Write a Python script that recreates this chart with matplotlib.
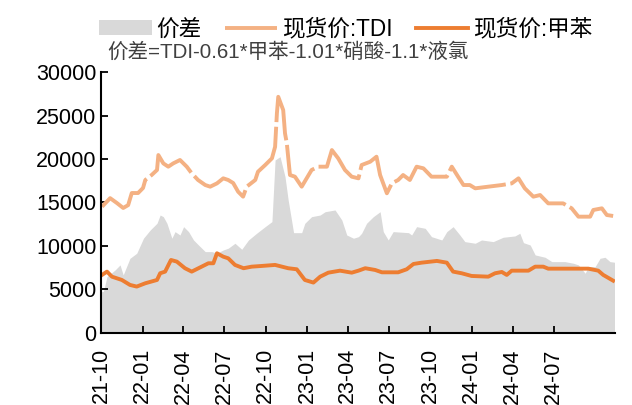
import matplotlib
matplotlib.use("Agg")
import matplotlib.pyplot as plt
import matplotlib.dates as mdates
import pandas as pd

plt.rcParams['font.family'] = ['Liberation Sans', 'Noto Sans CJK SC', 'DejaVu Sans']

# spread (价差)
spread_dates = [
    "2021-10-01", "2021-10-06", "2021-10-14", "2021-11-01", "2021-11-12", "2021-11-19",
    "2021-12-04", "2021-12-19", "2022-01-03", "2022-01-18", "2022-02-02", "2022-02-09",
    "2022-02-16", "2022-02-24", "2022-03-07", "2022-03-14", "2022-03-25", "2022-04-02",
    "2022-04-13", "2022-04-24", "2022-05-05", "2022-05-20", "2022-06-04", "2022-06-15",
    "2022-06-29", "2022-07-10", "2022-07-25", "2022-08-09", "2022-08-24", "2022-09-11",
    "2022-09-30", "2022-10-15", "2022-10-22", "2022-11-02", "2022-11-13", "2022-11-20",
    "2022-11-28", "2022-12-02", "2022-12-20", "2022-12-27", "2023-01-11", "2023-01-30",
    "2023-02-10", "2023-03-04", "2023-03-19", "2023-03-30", "2023-04-14", "2023-04-25",
    "2023-05-02", "2023-05-13", "2023-05-28", "2023-06-12", "2023-06-19", "2023-06-30",
    "2023-07-11", "2023-08-14", "2023-08-21", "2023-09-01", "2023-09-20", "2023-10-04",
    "2023-10-27", "2023-11-07", "2023-11-21", "2023-12-06", "2023-12-17", "2024-01-09",
    "2024-01-23", "2024-02-18", "2024-03-11", "2024-04-06", "2024-04-17", "2024-04-25",
    "2024-05-10", "2024-05-21", "2024-06-12", "2024-06-27", "2024-07-26", "2024-08-14",
    "2024-08-25", "2024-09-09", "2024-09-16", "2024-10-01", "2024-10-12", "2024-10-23",
    "2024-11-03", "2024-11-13",
]
spread = [
    4750, 4750, 6470, 7240, 7820, 6670,
    8580, 9160, 10890, 11840, 12610, 13560,
    13370, 12610, 10890, 11650, 11260, 12220,
    11650, 10690, 10110, 9350, 9350, 9160,
    9540, 9740, 10310, 9620, 10690, 11460,
    12220, 12800, 19890, 20270, 17970, 15290,
    12800, 11530, 11530, 12610, 13370, 13560,
    13940, 14140, 12990, 11260, 10890, 11070,
    11460, 12610, 13370, 13940, 11650, 10690,
    11650, 11530, 11260, 12220, 12030, 11070,
    10690, 11650, 12220, 11260, 10500, 10310,
    10690, 10500, 11000, 11150, 11460, 10380,
    10110, 8970, 8700, 8200, 8200, 8010,
    7820, 6860, 7620, 7620, 8580, 8700,
    8200, 8130,
]

# spot price: TDI
tdi_dates = [
    "2021-10-03", "2021-10-21", "2021-11-05", "2021-11-19", "2021-11-30", "2021-12-08",
    "2021-12-22", "2022-01-02", "2022-01-07", "2022-01-21", "2022-02-02", "2022-02-05",
    "2022-02-16", "2022-02-27", "2022-03-10", "2022-03-25", "2022-04-09", "2022-04-20",
    "2022-05-04", "2022-05-20", "2022-05-31", "2022-06-15", "2022-06-29", "2022-07-10",
    "2022-07-21", "2022-08-01", "2022-08-12", "2022-08-20", "2022-09-08", "2022-09-14",
    "2022-09-30", "2022-10-15", "2022-10-22", "2022-10-26", "2022-10-29", "2022-11-09",
    "2022-11-13", "2022-11-17", "2022-11-24", "2022-12-05", "2022-12-20", "2022-12-31",
    "2023-01-11", "2023-01-26", "2023-02-14", "2023-02-25", "2023-03-11", "2023-03-26",
    "2023-04-10", "2023-04-25", "2023-05-02", "2023-05-21", "2023-06-04", "2023-06-12",
    "2023-06-27", "2023-07-08", "2023-07-22", "2023-08-02", "2023-08-17", "2023-09-01",
    "2023-09-16", "2023-10-04", "2023-11-07", "2023-11-18", "2023-12-02", "2023-12-14",
    "2023-12-28", "2024-01-09", "2024-02-07", "2024-03-08", "2024-03-30", "2024-04-14",
    "2024-04-28", "2024-05-17", "2024-06-01", "2024-06-19", "2024-07-22", "2024-08-10",
    "2024-08-25", "2024-09-20", "2024-09-27", "2024-10-16", "2024-10-27", "2024-11-10",
]
tdi = [
    14520, 15500, 14940, 14370, 14700, 16090,
    16090, 16670, 17590, 18160, 18740, 20460,
    19500, 19120, 19500, 19890, 19120, 18360,
    17590, 17010, 16820, 17200, 17780, 17590,
    17240, 16240, 15670, 16820, 17590, 18540,
    19310, 20080, 21410, 25250, 27160, 25630,
    22950, 21800, 18160, 17970, 16820, 17780,
    18740, 19120, 19120, 21030, 20080, 18740,
    17970, 17780, 19310, 19690, 20270, 18160,
    16060, 17200, 17590, 18160, 17590, 19120,
    18930, 17970, 17970, 19120, 17970, 17010,
    17010, 16630, 16820, 17010, 17200, 17780,
    16630, 15670, 15860, 14900, 14900, 14330,
    13370, 13370, 14140, 14330, 13560, 13450,
]

# spot price: toluene
tol_dates = [
    "2021-10-03", "2021-10-14", "2021-10-25", "2021-11-16", "2021-12-04", "2021-12-19",
    "2022-01-07", "2022-02-02", "2022-02-09", "2022-02-20", "2022-03-05", "2022-03-18",
    "2022-04-05", "2022-04-20", "2022-05-05", "2022-05-27", "2022-06-07", "2022-06-15",
    "2022-06-29", "2022-07-10", "2022-07-25", "2022-08-13", "2022-08-31", "2022-09-22",
    "2022-10-22", "2022-11-20", "2022-12-09", "2022-12-27", "2023-01-15", "2023-01-30",
    "2023-02-17", "2023-03-15", "2023-04-10", "2023-04-25", "2023-05-10", "2023-06-01",
    "2023-06-16", "2023-07-22", "2023-08-10", "2023-08-25", "2023-09-12", "2023-10-16",
    "2023-11-07", "2023-11-21", "2023-12-10", "2024-01-01", "2024-02-07", "2024-02-22",
    "2024-03-08", "2024-03-19", "2024-03-30", "2024-05-06", "2024-05-21", "2024-06-08",
    "2024-06-19", "2024-09-16", "2024-10-08", "2024-10-19", "2024-11-10",
]
toluene = [
    6670, 7050, 6470, 6090, 5520, 5330,
    5710, 6090, 6860, 7050, 8390, 8200,
    7440, 7050, 7440, 8010, 8010, 9160,
    8770, 8580, 7820, 7440, 7620, 7700,
    7820, 7440, 7320, 6090, 5790, 6470,
    6930, 7160, 6930, 7160, 7440, 7240,
    6970, 6970, 7320, 7930, 8080, 8280,
    8080, 7050, 6860, 6550, 6470, 6860,
    7010, 6670, 7160, 7160, 7620, 7620,
    7390, 7390, 7160, 6670, 6010,
]

tick_months = pd.date_range("2021-10-01", "2024-07-01", freq="3MS")

fig = plt.figure(figsize=(6.32, 4.05), dpi=100)
ax = fig.add_axes([0.160, 0.178, 0.813, 0.644])

ax.fill_between(pd.to_datetime(spread_dates), spread, 0,
                color="#D9D9D9", lw=0, label="价差")
ax.plot(pd.to_datetime(tdi_dates), tdi, color="#F4B183", lw=2.8,
        dashes=(18, 1.2), label="现货价:TDI")
ax.plot(pd.to_datetime(tol_dates), toluene, color="#ED7D31", lw=2.8,
        label="现货价:甲苯")

ax.set_xlim(pd.Timestamp("2021-10-01"), pd.Timestamp("2024-11-14"))
ax.set_ylim(0, 30000)
ax.set_yticks(range(0, 30001, 5000))
ax.set_xticks(tick_months)
ax.xaxis.set_major_formatter(mdates.DateFormatter("%y-%m"))
ax.tick_params(axis="both", direction="in", length=5, width=1.3,
               labelsize=15.5, colors="black")
ax.tick_params(axis="x", rotation=90, pad=11)
for side in ("top", "right"):
    ax.spines[side].set_visible(False)
for side in ("left", "bottom"):
    ax.spines[side].set_linewidth(1.5)

fig.legend(loc="center", bbox_to_anchor=(0.547, 0.928), ncol=3,
           frameon=False, fontsize=16.3, handlelength=2.3, handleheight=0.6,
           handletextpad=0.2, columnspacing=1.05, borderaxespad=0,
           borderpad=0)
fig.text(0.169, 0.872, "价差=TDI-0.61*甲苯-1.01*硝酸-1.1*液氯",
         fontsize=14.8, color="#404040", va="center")

fig.savefig("out.png", dpi=100)
